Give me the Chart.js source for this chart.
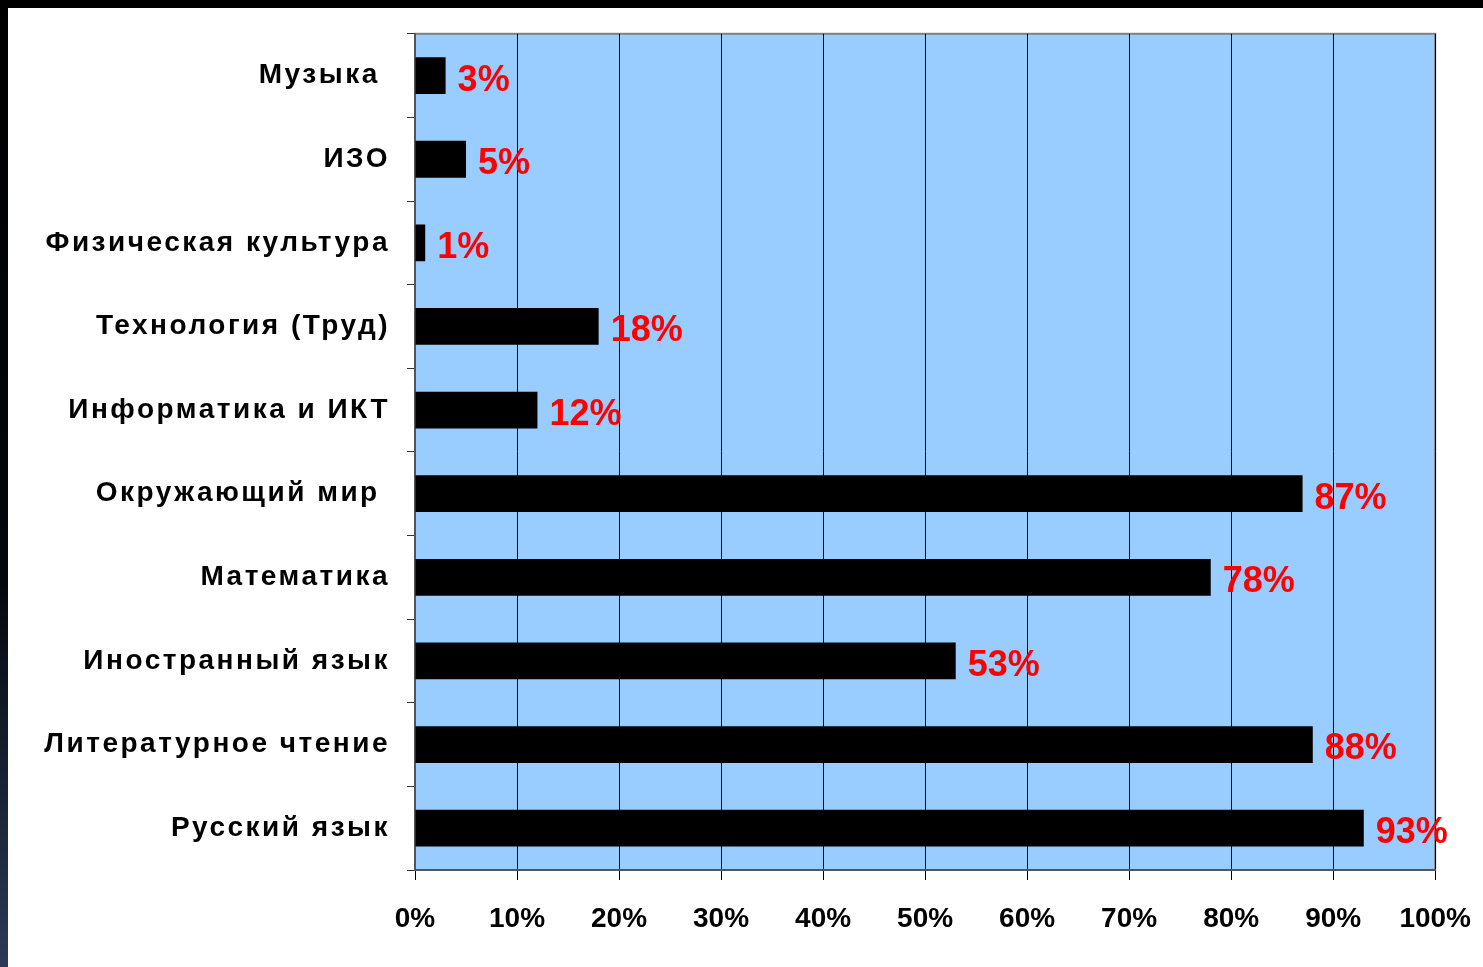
<!DOCTYPE html>
<html>
<head>
<meta charset="utf-8">
<script src="https://cdn.jsdelivr.net/npm/chart.js@4/dist/chart.umd.min.js"></script>
<style>
  html, body { margin: 0; padding: 0; background: #fff; }
  #frame {
    position: absolute; left: 0; top: 0; width: 1483px; height: 967px;
    background: #fff; overflow: hidden;
  }
  #topband { position: absolute; left: 0; top: 0; width: 1483px; height: 8px; background: #000; }
  #leftband {
    position: absolute; left: 0; top: 0; width: 8px; height: 967px;
    background: linear-gradient(to bottom, #000 0%, #05070c 60%, #2a3a58 100%);
  }
  #wrap { position: absolute; left: 8px; top: 0; width: 1485px; height: 967px; }
</style>
</head>
<body>
<div id="frame">
  <div id="wrap"><canvas id="subjChart"></canvas></div>
  <div id="topband"></div>
  <div id="leftband"></div>
</div>
<script>
const subjects = [
  'Музыка ', 'ИЗО', 'Физическая культура', 'Технология (Труд)', 'Информатика и ИКТ',
  'Окружающий мир ', 'Математика', 'Иностранный язык', 'Литературное чтение', 'Русский язык'
];
const percents = [3, 5, 1, 18, 12, 87, 78, 53, 88, 93];
const xTicks = [0, 10, 20, 30, 40, 50, 60, 70, 80, 90, 100];

// light blue plot background with grey frame
const plotBg = {
  id: 'plotBg',
  beforeDraw(chart) {
    const { ctx, chartArea: a } = chart;
    ctx.save();
    ctx.fillStyle = '#99ccff';
    ctx.fillRect(a.left, a.top, a.right - a.left, a.bottom - a.top);
    ctx.strokeStyle = '#808080';
    ctx.lineWidth = 2;
    ctx.strokeRect(a.left, a.top, a.right - a.left, a.bottom - a.top);
    ctx.restore();
  }
};

// wider letter spacing on the subject names
const spacedLabels = {
  id: 'spacedLabels',
  afterLayout(chart) {
    const s = chart.scales.y;
    if (s._spaced) return;
    const orig = s.drawLabels.bind(s);
    s.drawLabels = function (area) {
      chart.ctx.save();
      chart.ctx.letterSpacing = '2.5px';
      orig(area);
      chart.ctx.restore();
    };
    s._spaced = true;
  }
};

// red value labels at bar ends
const valueLabels = {
  id: 'valueLabels',
  afterDatasetsDraw(chart) {
    const { ctx } = chart;
    const meta = chart.getDatasetMeta(0);
    ctx.save();
    ctx.fillStyle = '#ff0000';
    ctx.font = 'bold 36px "Liberation Sans", Arial, sans-serif';
    ctx.textAlign = 'left';
    ctx.textBaseline = 'middle';
    meta.data.forEach((bar, i) => {
      ctx.fillText(percents[i] + '%', bar.x + 12, bar.y + 5);
    });
    ctx.restore();
  }
};

new Chart(document.getElementById('subjChart'), {
  type: 'bar',
  data: {
    labels: subjects,
    datasets: [{
      data: percents,
      backgroundColor: '#000',
      barPercentage: 0.44,
      categoryPercentage: 1
    }]
  },
  options: {
    indexAxis: 'y',
    responsive: true,
    maintainAspectRatio: false,
    animation: false,
    layout: { padding: { top: 16, right: 38, left: 0, bottom: 0 } },
    plugins: { legend: { display: false }, tooltip: { enabled: false } },
    scales: {
      x: {
        min: 0, max: 100,
        afterBuildTicks(scale) { scale.ticks = xTicks.map(v => ({ value: v })); },
        afterFit(scale) { scale.height = 97; },
        grid: { color: '#000', lineWidth: 1, tickLength: 10 },
        border: { color: '#555', width: 2 },
        ticks: {
          padding: 22,
          color: '#000',
          font: { family: '"Liberation Sans", Arial, sans-serif', size: 28, weight: 'bold' },
          callback: v => v + '%'
        }
      },
      y: {
        afterFit(scale) { scale.width = 407; },
        grid: { offset: true, drawOnChartArea: false, color: '#333', tickLength: 8 },
        border: { color: '#555', width: 2 },
        ticks: {
          padding: 17,
          color: '#000',
          font: { family: '"Liberation Sans", Arial, sans-serif', size: 28, weight: 'bold' }
        }
      }
    }
  },
  plugins: [plotBg, spacedLabels, valueLabels]
});
</script>
</body>
</html>
